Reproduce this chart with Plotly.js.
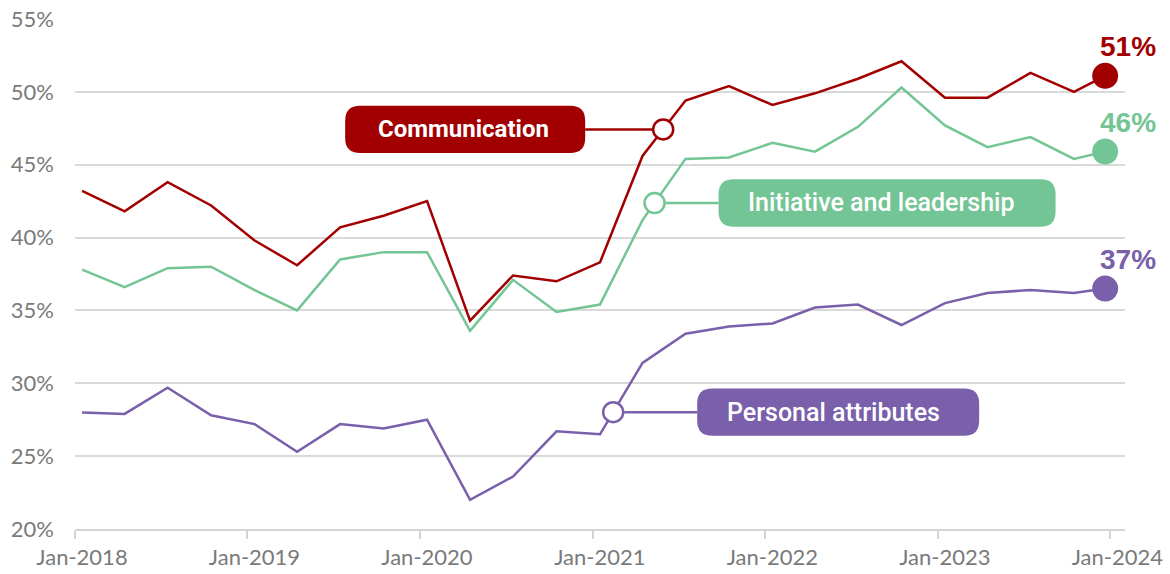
<!DOCTYPE html>
<html>
<head>
<meta charset="utf-8">
<script src="https://cdn.plot.ly/plotly-3.0.1.min.js"></script>
<style>html,body{margin:0;padding:0;background:#fff;}#chart{width:1170px;height:574px;}</style>
</head>
<body>
<div id="chart"></div>
<script>
// ---- data ----
const dates = [
  '2018-01-16','2018-04-16','2018-07-16','2018-10-16',
  '2019-01-16','2019-04-16','2019-07-16','2019-10-16',
  '2020-01-16','2020-04-16','2020-07-16','2020-10-16',
  '2021-01-16','2021-04-16','2021-07-16','2021-10-16',
  '2022-01-16','2022-04-16','2022-07-16','2022-10-16',
  '2023-01-16','2023-04-16','2023-07-16','2023-10-16','2023-12-21'
];
const communication = [43.2,41.8,43.8,42.2,39.8,38.1,40.7,41.5,42.5,34.3,37.4,37.0,38.3,45.6,49.4,50.4,49.1,49.9,50.9,52.1,49.6,49.6,51.3,50.0,51.1];
const initiative    = [37.8,36.6,37.9,38.0,36.4,35.0,38.5,39.0,39.0,33.6,37.1,34.9,35.4,41.2,45.4,45.5,46.5,45.9,47.6,50.3,47.7,46.2,46.9,45.4,45.9];
const personal      = [28.0,27.9,29.7,27.8,27.2,25.3,27.2,26.9,27.5,22.0,23.6,26.7,26.5,31.4,33.4,33.9,34.1,35.2,35.4,34.0,35.5,36.2,36.4,36.2,36.5];
const seriesNames = ['Communication','Initiative and leadership','Personal attributes'];
const endLabels = ['51%','46%','37%'];
const tickYears = ['2018','2019','2020','2021','2022','2023','2024'];

// ---- styling ----
const colors = ['#a20000','#74c595','#7a5fab'];
const seriesData = [communication, initiative, personal];
// label placement (fractional index along series, pixel offsets)
const labelAt   = [13.48, 13.28, 12.31];
const pillX     = [[-318,-78],[64,401],[84,366]];
const textShift = [-200, 227, 220];
const textWeight= ['bold', 500, 500];
const textSize  = [24, 25, 25];

function toMs(d){ const p=d.split('-').map(Number); return Date.UTC(p[0],p[1]-1,p[2]); }
function msStr(ms){ return new Date(ms).toISOString().slice(0,19).replace('T',' '); }
function interp(arr, f){ const k=Math.floor(f), t=f-k; return arr[k]+(arr[k+1]-arr[k])*t; }
function interpDate(f){ const k=Math.floor(f), t=f-k; return msStr(toMs(dates[k])+(toMs(dates[k+1])-toMs(dates[k]))*t); }
function pillPath(x0,x1,h,r){
  const y0=-h, y1=h;
  return `M ${x0+r},${y0} L ${x1-r},${y0} Q ${x1},${y0} ${x1},${y0+r} L ${x1},${y1-r} Q ${x1},${y1} ${x1-r},${y1} L ${x0+r},${y1} Q ${x0},${y1} ${x0},${y1-r} L ${x0},${y0+r} Q ${x0},${y0} ${x0+r},${y0} Z`;
}

const traces = [];
const shapes = [];
const annotations = [];
const n = dates.length;

seriesData.forEach((vals,i)=>{
  traces.push({x:dates, y:vals, type:'scatter', mode:'lines', name:seriesNames[i],
    line:{color:colors[i], width:2.5}, hoverinfo:'skip'});
});
seriesData.forEach((vals,i)=>{
  traces.push({x:[dates[n-1]], y:[vals[n-1]], type:'scatter', mode:'markers',
    marker:{color:colors[i], size:26}, hoverinfo:'skip'});
  annotations.push({x:dates[n-1], y:vals[n-1], xref:'x', yref:'y', text:endLabels[i], showarrow:false,
    xanchor:'center', yanchor:'bottom', xshift:23, yshift:12,
    font:{family:'Liberation Sans, Arial, sans-serif', size:28, color:colors[i], weight:'bold'}});
});
seriesData.forEach((vals,i)=>{
  const ax = interpDate(labelAt[i]);
  const ay = interp(vals, labelAt[i]);
  const [p0,p1] = pillX[i];
  shapes.push({type:'path', xref:'x', yref:'y', xsizemode:'pixel', ysizemode:'pixel', xanchor:ax, yanchor:ay,
    path:pillPath(p0,p1,23.7,15), fillcolor:colors[i], line:{width:0}, layer:'above'});
  const edge = p0<0 ? -11 : 11;
  const pe = p0<0 ? p1 : p0;
  shapes.push({type:'line', xref:'x', yref:'y', xsizemode:'pixel', ysizemode:'pixel', xanchor:ax, yanchor:ay,
    x0:edge, x1:pe, y0:0, y1:0, line:{color:colors[i], width:2.5}, layer:'above'});
  traces.push({x:[ax], y:[ay], type:'scatter', mode:'markers', hoverinfo:'skip',
    marker:{color:'#ffffff', size:20, line:{color:colors[i], width:2.5}}});
  annotations.push({x:ax, y:ay, xref:'x', yref:'y', text:seriesNames[i], showarrow:false,
    xanchor:'center', yanchor:'middle', xshift:textShift[i], yshift:0,
    font:{family:'Roboto, sans-serif', size:textSize[i], color:'#ffffff', weight:textWeight[i]}});
});

const layout = {
  width:1170, height:574,
  margin:{l:75, r:45, t:19, b:45},
  paper_bgcolor:'#ffffff', plot_bgcolor:'#ffffff',
  showlegend:false,
  font:{family:'Lato, sans-serif', color:'#7a7a7a', size:22},
  xaxis:{type:'date', range:['2018-01-01','2024-02-01'],
    tickvals:tickYears.map(y=>y+'-01-01'), ticktext:tickYears.map(y=>'Jan-'+y),
    ticks:'outside', ticklen:8, tickwidth:2, tickcolor:'#d4d4d4',
    showline:true, linecolor:'#d4d4d4', linewidth:2, showgrid:false, zeroline:false,
    ticklabelshift:7, tickfont:{family:'Lato, sans-serif', size:22, color:'#7a7a7a'}},
  yaxis:{range:[20,55], dtick:5, tick0:20, ticksuffix:'%', showgrid:true, gridcolor:'#d9d9d9', gridwidth:2,
    zeroline:false, showline:false, ticks:'', ticklabelstandoff:20,
    tickfont:{family:'Lato, sans-serif', size:22, color:'#7a7a7a'}},
  shapes:shapes, annotations:annotations
};
Plotly.newPlot('chart', traces, layout, {displayModeBar:false, staticPlot:true});
</script>
</body>
</html>
